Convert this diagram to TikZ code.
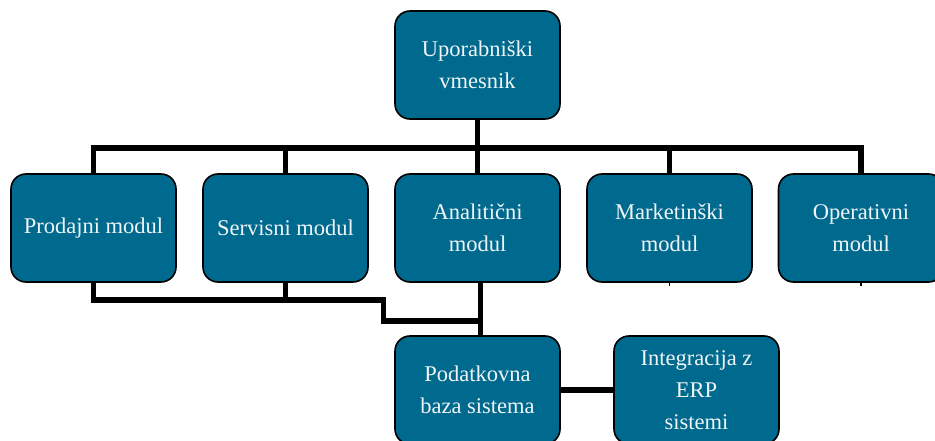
\documentclass[tikz,border=0pt]{standalone}
\usepackage{fontspec}
\setmainfont{Liberation Serif}
\usetikzlibrary{backgrounds}
\definecolor{boxblue}{RGB}{0,106,142}
\definecolor{boxtext}{RGB}{240,244,246}
\begin{document}
\begin{tikzpicture}[x=1pt,y=-1pt,
  modbox/.style={draw=black,line width=1.6pt,fill=boxblue,rounded corners=15pt,
    minimum width=165pt,minimum height=108pt,inner sep=1pt,align=center,
    text=boxtext,font=\fontsize{22.5}{32}\selectfont,anchor=center},
  conn/.style={draw=black,line width=5.5pt,line join=miter},
  tick/.style={draw=black,line width=1.2pt}]
\useasboundingbox (0,0) rectangle (935,441);
\clip (0,0) rectangle (935,441);
\node[modbox] (top) at (477.5,65) {Uporabniški\\vmesnik};
\node[modbox] (pro) at (93.5,228) {Prodajni modul};
\node[modbox] (ser) at (285.5,228) {Servisni modul};
\node[modbox] (ana) at (477.5,228) {Analitični\\modul};
\node[modbox] (mar) at (669.5,228) {Marketinški\\modul};
\node[modbox] (ope) at (861,228) {Operativni\\modul};
\node[modbox] (pod) at (477.5,390) {Podatkovna\\baza sistema};
\node[modbox] (int) at (696.5,390) {Integracija z\\ERP\\sistemi};
\coordinate (bus) at (0,148);
\coordinate (b1) at (0,300);
\coordinate (b2) at (0,321);
\coordinate (c1) at (383.5,0);
\coordinate (c2) at (480.5,0);
\begin{scope}[on background layer]
\draw[conn] (top.south) -- (top.south |- bus);
\draw[conn] (pro.north) -- (pro.north |- bus) -- (ope.north |- bus) -- (ope.north);
\draw[conn] (ser.north) -- (ser.north |- bus);
\draw[conn] (ana.north) -- (ana.north |- bus);
\draw[conn] (mar.north) -- (mar.north |- bus);
\draw[conn] (pro.south) -- (pro.south |- b1) -- (c1 |- b1) -- (c1 |- b2) -- (c2 |- b2);
\draw[conn] (ser.south) -- (ser.south |- b1);
\draw[conn] (c2 |- ana.south) -- (c2 |- pod.north);
\draw[conn] (pod.east) -- (int.west);
\end{scope}
\draw[tick] (mar.south) -- ++(0,3);
\draw[tick] (ope.south) -- ++(0,3);
\end{tikzpicture}
\end{document}
